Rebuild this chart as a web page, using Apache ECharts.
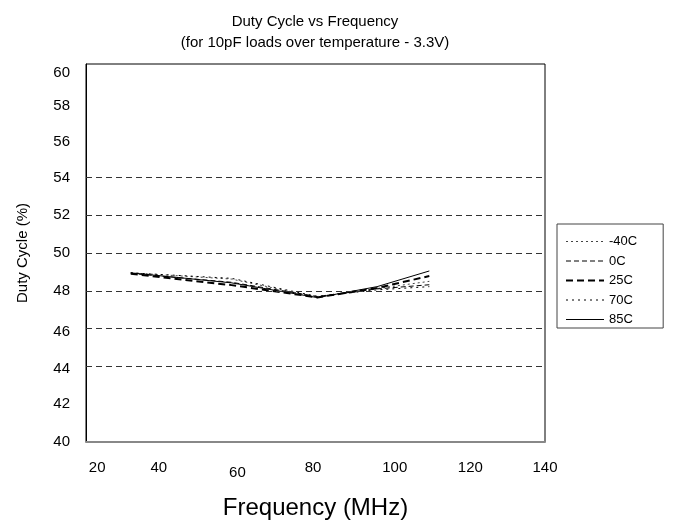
<!DOCTYPE html>
<html>
<head>
<meta charset="utf-8">
<script src="https://cdn.jsdelivr.net/npm/echarts@6/dist/echarts.min.js"></script>
<style>html,body{margin:0;padding:0;background:#fff;}#c{width:684px;height:522px;}</style>
</head>
<body>
<div id="c"></div>
<script>
var seriesNames = ['-40C', '0C', '25C', '70C', '85C'];
var freq = [29, 56, 79, 95, 109];
var dcM40 = [48.95, 48.62, 47.66, 48.12, 48.5];
var dc0 = [48.92, 48.45, 47.70, 48.10, 48.32];
var dc25 = [48.90, 48.30, 47.65, 48.15, 48.78];
var dc70 = [48.95, 48.66, 47.70, 48.05, 48.22];
var dc85 = [48.95, 48.42, 47.64, 48.22, 49.05];
var xTicks = [20, 40, 60, 80, 100, 120, 140];
var gridLevels = [44, 46, 48, 50, 52, 54];

var FONT = 'Liberation Sans, Arial, Helvetica, sans-serif';
function pairs(v){ return freq.map(function(f,i){ return [f, v[i]]; }); }
var styles = [
  {type:[2,3], width:1, color:'#444'},
  {type:[5,3], width:1, color:'#000'},
  {type:[7,4], width:2, color:'#000'},
  {type:[2,4], width:1, color:'#000'},
  {type:'solid', width:1, color:'#000'}
];
var vals = [dcM40, dc0, dc25, dc70, dc85];
var series = vals.map(function(v,i){
  return {
    name: seriesNames[i], type:'line', data: pairs(v), symbol:'none', smooth:false,
    lineStyle:{color:styles[i].color, width:styles[i].width, type:styles[i].type},
    itemStyle:{color:'#000'}, z: 3
  };
});
series.push({
  type:'line', data:[], silent:true,
  markLine:{
    silent:true, symbol:'none', label:{show:false},
    lineStyle:{color:'#333', type:[6,4], width:1},
    data: gridLevels.map(function(g){ return {yAxis:g}; })
  }
});
// per-label nudges to follow the scanned layout
var xShift = {20:0, 40:-13, 60:-9, 80:-8, 100:-1, 120:0, 140:0};
var yShift = {60:9, 58:4, 56:2, 46:3, 44:2};
var xRich = {}, yRich = {};
xTicks.forEach(function(t){
  var s = xShift[t] || 0;
  xRich['x' + t] = {fontSize:15, fontFamily:FONT, color:'#000',
    padding:[t === 60 ? 5 : 0, s < 0 ? -2 * s : 0, 0, s > 0 ? 2 * s : 0]};
});
[40,42,44,46,48,50,52,54,56,58,60].forEach(function(t){
  var s = yShift[t] || 0;
  yRich['y' + t] = {fontSize:15, fontFamily:FONT, color:'#000', padding:[2 * s, 0, 0, 0]};
});
var legendData = seriesNames.map(function(n, i){
  return {name:n, lineStyle:{width:styles[i].width, type:styles[i].type, color:styles[i].color}};
});
var chart = echarts.init(document.getElementById('c'));
chart.setOption({
  animation:false,
  backgroundColor:'#fff',
  textStyle:{fontFamily:FONT, color:'#000'},
  title:{
    text:'Duty Cycle vs Frequency\n(for 10pF loads over temperature - 3.3V)',
    left:310, top:6, textAlign:'center',
    textStyle:{fontFamily:FONT, fontSize:15, fontWeight:'normal', color:'#000', lineHeight:21}
  },
  legend:{
    orient:'vertical', left:557, top:224, data:legendData,
    itemWidth:38, itemHeight:10, itemGap:6.5,
    padding:[11, 26, 2, 8], borderColor:'#444', borderWidth:1,
    itemStyle:{opacity:0},
    textStyle:{fontFamily:FONT, fontSize:13, color:'#000'}
  },
  grid:{left:86, right:139, top:64, bottom:80, show:true, borderColor:'#000', borderWidth:1,
    containLabel:false, outerBoundsMode:'none'},
  xAxis:{
    type:'value', min:17, max:140,
    name:'Frequency (MHz)', nameLocation:'middle', nameGap:54,
    nameTextStyle:{fontFamily:FONT, fontSize:24, color:'#000'},
    axisLine:{show:true, lineStyle:{color:'#888', width:2}},
    axisTick:{show:false},
    splitLine:{show:false},
    axisLabel:{customValues:xTicks, margin:18, fontSize:15, color:'#000', fontFamily:FONT,
      formatter:function(v){ return '{x' + v + '|' + v + '}'; },
      rich:xRich}
  },
  yAxis:{
    type:'value', min:40, max:60, interval:2,
    name:'Duty Cycle (%)', nameLocation:'middle', nameGap:56,
    nameTextStyle:{fontFamily:FONT, fontSize:15, color:'#000'},
    axisLine:{show:true, lineStyle:{color:'#000', width:1}},
    axisTick:{show:false},
    splitLine:{show:false},
    axisLabel:{margin:16, fontSize:15, color:'#000', fontFamily:FONT,
      formatter:function(v){ return '{y' + v + '|' + v + '}'; },
      rich:yRich}
  },
  series: series
});
</script>
</body>
</html>
